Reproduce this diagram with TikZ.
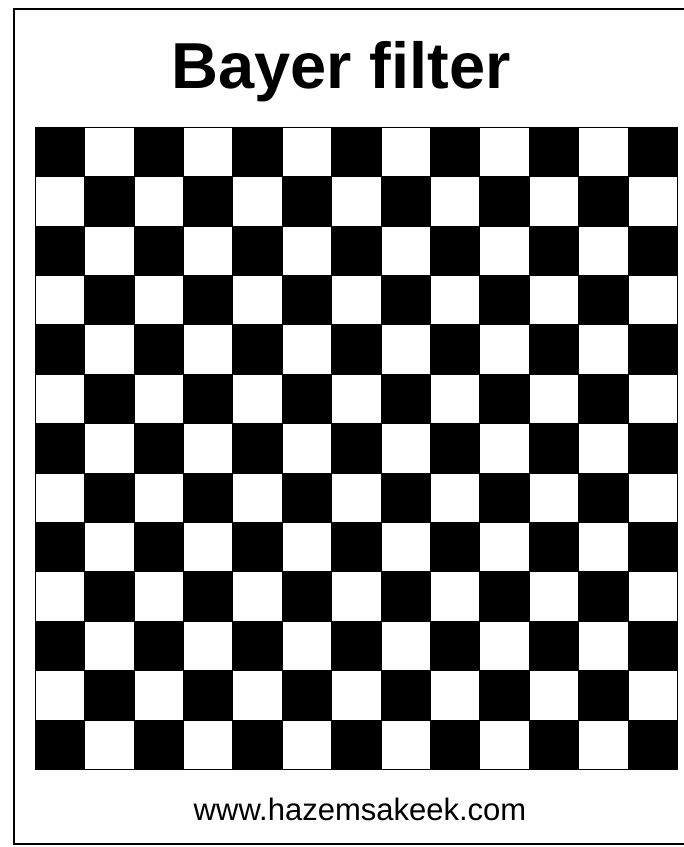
\documentclass[tikz,border=0pt]{standalone}
\usepackage{fontspec}
\setmainfont{Liberation Sans}
\begin{document}
\begin{tikzpicture}[
  x=1pt, y=-1pt,
  cell/.style={draw=black, line width=0.6pt},
  darkcell/.style={cell, fill=black},
  lightcell/.style={cell, fill=white},
  frame/.style={draw=black, line width=2pt}
]
\useasboundingbox (0,0) rectangle (684,847);
% frame runs off the right edge of the sheet
\draw[frame] (684,9) -| (14,844) -- (684,844);

\node[font=\fontsize{65}{65}\selectfont\bfseries, anchor=base, inner sep=0pt] (title) at (341,88) {Bayer filter};

% 13 x 13 mosaic, dark cell in the top left corner
\foreach \i in {0,...,12} {
  \foreach \j in {0,...,12} {
    \pgfmathtruncatemacro{\sumij}{\i+\j}
    \ifodd\sumij \def\kind{lightcell}\else\def\kind{darkcell}\fi
    \draw[\kind] (35+\i*49.4, 127+\j*49.4) rectangle ++(49.4,49.4);
  }
}
\draw[line width=1pt] (35,127) rectangle (677.2,769.2);

\node[font=\fontsize{31}{31}\selectfont, anchor=base, inner sep=0pt] (site) at (360,820) {www.hazemsakeek.com};
\end{tikzpicture}
\end{document}
